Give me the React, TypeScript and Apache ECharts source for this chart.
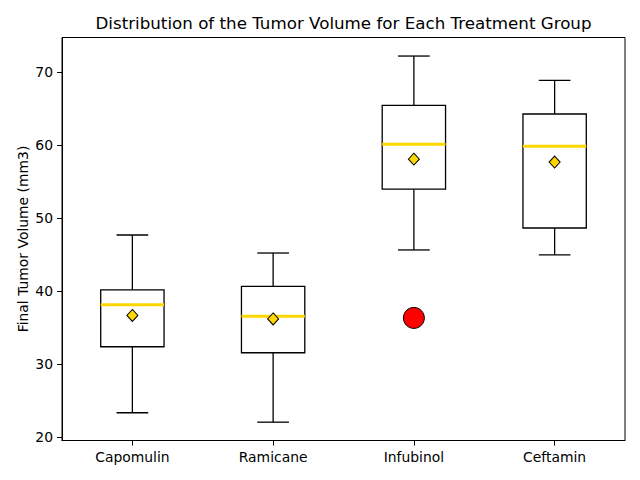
import React, { useEffect, useRef } from "react";
import * as echarts from "echarts";

const categories = ["Capomulin", "Ramicane", "Infubinol", "Ceftamin"];
const whiskerLow = [23.34, 22.05, 45.64, 44.96];
const q1 = [32.38, 31.56, 53.97, 48.65];
const medians = [38.13, 36.56, 60.12, 59.85];
const q3 = [40.16, 40.66, 65.45, 64.26];
const whiskerHigh = [47.69, 45.22, 72.2, 68.88];
const means = [36.67, 36.19, 58.08, 57.68];
const outlierCategory = ["Infubinol"];
const outlierValues = [36.33];
const yTicks = [20, 30, 40, 50, 60, 70];

const FONT = "DejaVu Sans";

export default function App() {
  const ref = useRef<HTMLDivElement>(null);
  useEffect(() => {
    if (!ref.current) return;
    const chart = echarts.init(ref.current, null, { renderer: "svg" });
    const boxData = categories.map((c, i) => [i, whiskerLow[i], q1[i], medians[i], q3[i], whiskerHigh[i]]);
    chart.setOption({
      animation: false,
      backgroundColor: "#ffffff",
      graphic: [
        {
          type: "text",
          x: 343.5,
          y: 23,
          style: {
            text: "Distribution of the Tumor Volume for Each Treatment Group",
            font: `16.7px "${FONT}"`,
            fill: "#000",
            textAlign: "center",
            textVerticalAlign: "middle",
          },
        },
        {
          type: "text",
          x: 22.5,
          y: 239,
          rotation: Math.PI / 2,
          style: {
            text: "Final Tumor Volume (mm3)",
            font: `13.9px "${FONT}"`,
            fill: "#000",
            textAlign: "center",
            textVerticalAlign: "middle",
          },
        },
      ],
      grid: {
        left: 62,
        right: 15,
        top: 37.5,
        bottom: 39.5,
        show: true,
        borderColor: "#000",
        borderWidth: 1,
        backgroundColor: "transparent",
      },
      xAxis: {
        type: "category",
        data: categories,
        boundaryGap: true,
        axisLine: { show: true, lineStyle: { color: "#000", width: 1 } },
        axisTick: { show: true, alignWithLabel: true, length: 5, lineStyle: { color: "#000" } },
        axisLabel: { color: "#000", fontFamily: FONT, fontSize: 13.9, margin: 9 },
        splitLine: { show: false },
      },
      yAxis: {
        type: "value",
        min: 19.54,
        max: 74.74,
        axisLine: { show: true, lineStyle: { color: "#000", width: 1 } },
        axisTick: { show: true, length: 5, lineStyle: { color: "#000" }, customValues: yTicks },
        axisLabel: { color: "#000", fontFamily: FONT, fontSize: 13.9, margin: 9, customValues: yTicks },
        splitLine: { show: false },
      },
      series: [
        {
          type: "custom",
          data: boxData,
          encode: { x: 0, y: [1, 2, 3, 4, 5] },
          renderItem: (params: any, api: any) => {
            const idx = api.value(0);
            const lo = api.coord([idx, api.value(1)]);
            const b1 = api.coord([idx, api.value(2)]);
            const md = api.coord([idx, api.value(3)]);
            const b3 = api.coord([idx, api.value(4)]);
            const hi = api.coord([idx, api.value(5)]);
            const band = api.size([1, 0])[0];
            const w = band * 0.45;
            const cx = lo[0];
            const lineStyle = { stroke: "#000", lineWidth: 1.3, fill: null };
            return {
              type: "group",
              children: [
                { type: "line", shape: { x1: cx, y1: lo[1], x2: cx, y2: b1[1] }, style: lineStyle },
                { type: "line", shape: { x1: cx, y1: b3[1], x2: cx, y2: hi[1] }, style: lineStyle },
                { type: "line", shape: { x1: cx - w / 4, y1: lo[1], x2: cx + w / 4, y2: lo[1] }, style: lineStyle },
                { type: "line", shape: { x1: cx - w / 4, y1: hi[1], x2: cx + w / 4, y2: hi[1] }, style: lineStyle },
                {
                  type: "rect",
                  shape: { x: cx - w / 2, y: b3[1], width: w, height: b1[1] - b3[1] },
                  style: { stroke: "#000", lineWidth: 1.3, fill: "#ffffff" },
                },
                {
                  type: "line",
                  shape: { x1: cx - w / 2, y1: md[1], x2: cx + w / 2, y2: md[1] },
                  style: { stroke: "#FFD700", lineWidth: 3, fill: null },
                },
              ],
            };
          },
          z: 2,
        },
        {
          type: "scatter",
          data: categories.map((c, i) => [c, means[i]]),
          symbol: "diamond",
          symbolSize: [11, 12],
          itemStyle: { color: "#FFD700", borderColor: "#000", borderWidth: 1, opacity: 1 },
          z: 5,
        },
        {
          type: "scatter",
          data: outlierCategory.map((c, i) => [c, outlierValues[i]]),
          symbol: "circle",
          symbolSize: 21,
          itemStyle: { color: "#FF0000", borderColor: "#000", borderWidth: 1, opacity: 1 },
          z: 5,
        },
      ],
    });
    return () => chart.dispose();
  }, []);
  return <div ref={ref} style={{ width: 640, height: 480, position: "absolute", left: 0, top: 0 }} />;
}
